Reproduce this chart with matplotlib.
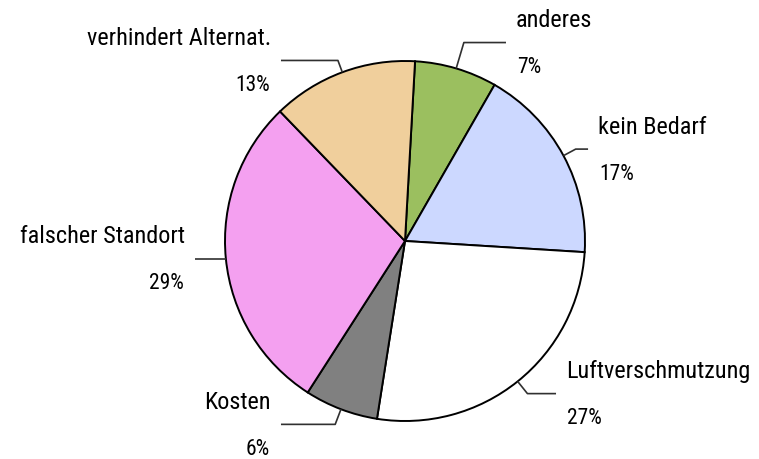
import numpy as np
import matplotlib
matplotlib.use('Agg')
import matplotlib.pyplot as plt
from matplotlib import font_manager

# slice data (clockwise from top)
labels = ['anderes', 'kein Bedarf', 'Luftverschmutzung', 'Kosten', 'falscher Standort', 'verhindert Alternat.']
shares = [7.4, 17.7, 26.5, 6.6, 28.7, 13.1]
pct_labels = ['7%', '17%', '27%', '6%', '29%', '13%']
colors = ['#9bbf5f', '#ccd8ff', '#ffffff', '#808080', '#f4a0f0', '#f0cf9c']

# leader line layout (pie radius = 1)
elbow_r = [1.15, 1.077, 1.087, 1.09, 1.0, 1.07]
line_end_x = [0.561, 1.017, 0.839, -0.689, -1.167, -0.689]

# pick a narrow font if there is one
names = set(f.name for f in font_manager.fontManager.ttflist)
font = 'DejaVu Sans'
for cand in ['Liberation Sans Narrow', 'Roboto Condensed', 'Open Sans Condensed', 'Liberation Sans']:
    if cand in names:
        font = cand
        break
plt.rcParams['font.family'] = [font, 'DejaVu Sans']

fig = plt.figure(figsize=(7.59, 4.60), dpi=100)
ax = fig.add_axes([0, 0, 1, 1])

wedges, _ = ax.pie(shares, startangle=86.8, counterclock=False, colors=colors,
                   wedgeprops=dict(edgecolor='black', linewidth=1.4))

for i, w in enumerate(wedges):
    theta = np.deg2rad((w.theta1 + w.theta2) / 2)
    px, py = np.cos(theta), np.sin(theta)
    ex, ey = elbow_r[i] * px, elbow_r[i] * py
    endx = line_end_x[i]
    ax.plot([px, ex, endx], [py, ey, ey], color='#303030', lw=1.2, solid_capstyle='butt')
    side = 1 if endx > ex else -1
    ha = 'left' if side > 0 else 'right'
    ax.annotate(labels[i], (endx, ey), xytext=(side * 10, 23), textcoords='offset pixels',
                ha=ha, va='center', fontsize=17.5)
    ax.annotate(pct_labels[i], (endx, ey), xytext=(side * 11, -24), textcoords='offset pixels',
                ha=ha, va='center', fontsize=15.5)

# center at (405, 242) px, radius 180 px
ax.set_xlim(-405 / 180, (759 - 405) / 180)
ax.set_ylim(-(460 - 242) / 180, 242 / 180)
ax.set_aspect('equal')
ax.axis('off')

fig.savefig('out.png', dpi=100)
